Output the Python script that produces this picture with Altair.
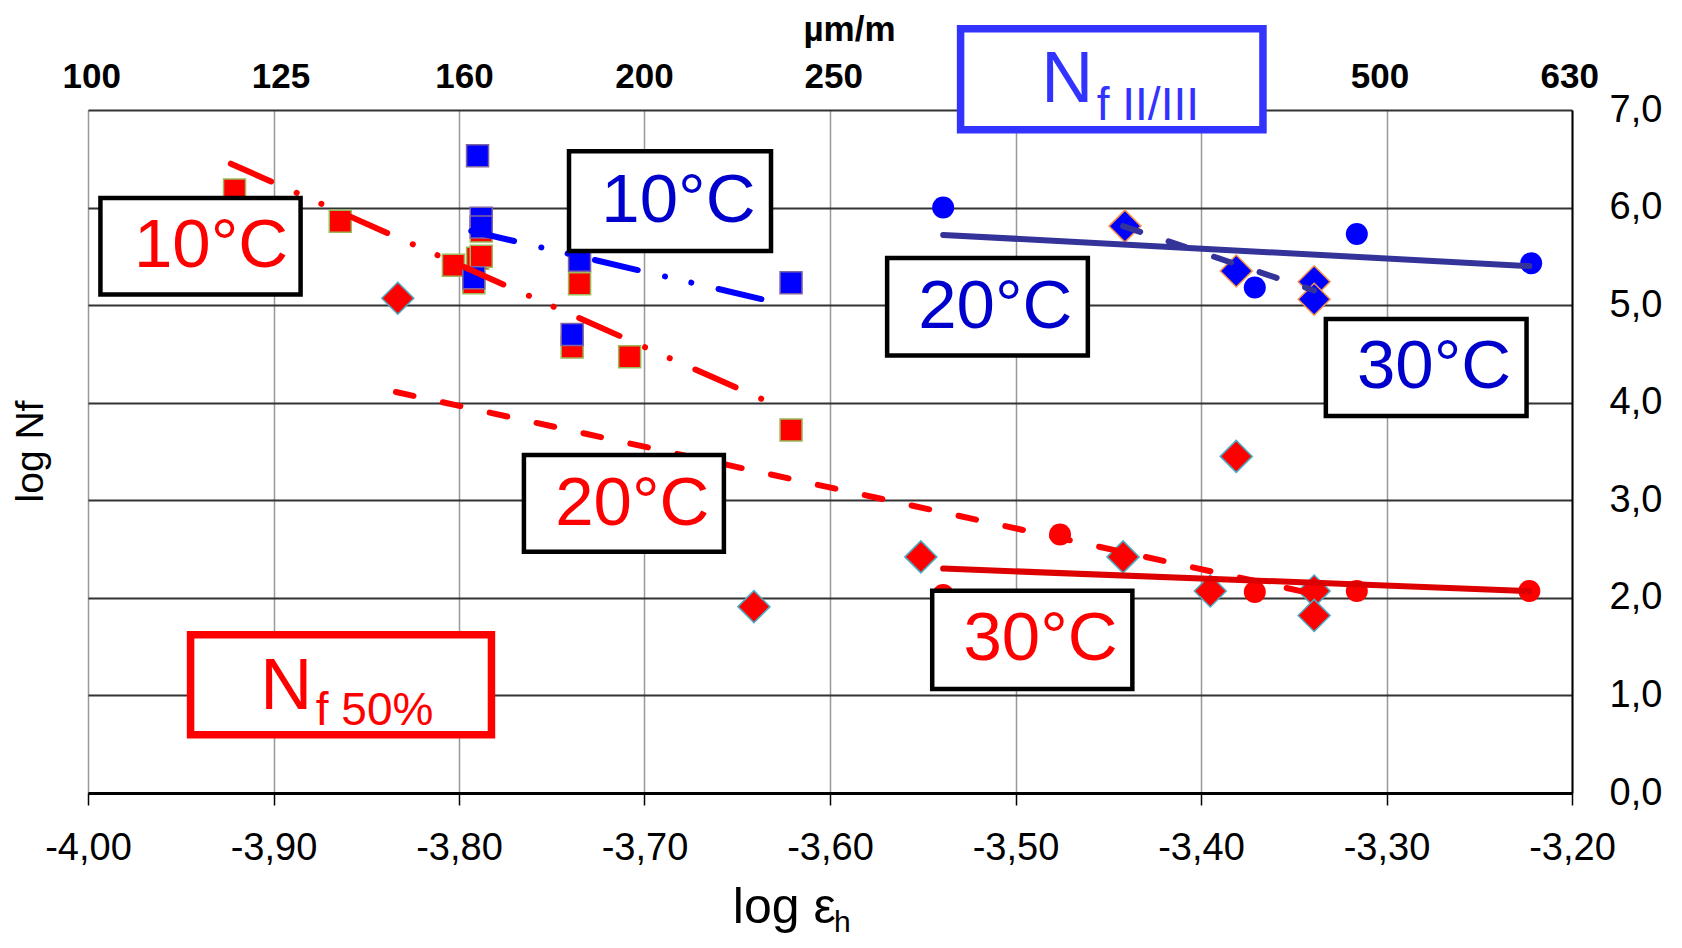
import altair as alt
import pandas as pd

# ---------------- data ----------------
# N_f 50%  (red markers)
red10_x = [-3.921, -3.864, -3.803, -3.790, -3.788, -3.792, -3.788, -3.735, -3.739, -3.708, -3.621]
red10_y = [6.18, 5.86, 5.41, 5.48, 5.50, 5.23, 5.76, 5.22, 4.57, 4.47, 3.72]
red20_x = [-3.833, -3.641, -3.551, -3.442, -3.395, -3.381, -3.339, -3.339]
red20_y = [5.07, 1.91, 2.42, 2.42, 2.07, 3.45, 2.07, 1.82]
red30_x = [-3.539, -3.476, -3.371, -3.316, -3.223]
red30_y = [2.03, 2.65, 2.06, 2.07, 2.07]

# N_f II/III  (blue markers)
blue10_x = [-3.790, -3.788, -3.788, -3.792, -3.735, -3.739, -3.621]
blue10_y = [6.53, 5.89, 5.80, 5.28, 5.46, 4.70, 5.23]
blue20_x = [-3.441, -3.381, -3.339, -3.339]
blue20_y = [5.81, 5.35, 5.24, 5.06]
blue30_x = [-3.539, -3.371, -3.316, -3.222]
blue30_y = [6.00, 5.18, 5.73, 5.43]

# trend lines (start, end)
tr_red10_x, tr_red10_y = [-3.923, -3.631], [6.45, 3.99]
tr_red20_x, tr_red20_y = [-3.834, -3.344], [4.11, 2.06]
tr_red30_x, tr_red30_y = [-3.539, -3.223], [2.30, 2.07]
tr_blue10_x, tr_blue10_y = [-3.7934, -3.632], [5.76, 5.04]
tr_blue20_x, tr_blue20_y = [-3.442, -3.339], [5.81, 5.15]
tr_blue30_x, tr_blue30_y = [-3.539, -3.223], [5.72, 5.40]

# axes
x_ticks = [-4.0, -3.9, -3.8, -3.7, -3.6, -3.5, -3.4, -3.3, -3.2]
y_ticks = [0, 1, 2, 3, 4, 5, 6, 7]
# top µm/m scale (315 and 400 are hidden behind the N_f II/III box in the reference)
top_labels = ["100", "125", "160", "200", "250", "500", "630"]
top_pos = [-3.998, -3.896, -3.797, -3.700, -3.598, -3.3035, -3.2012]

# annotation boxes
box_x1 = [-3.9933, -3.7407, -3.5692, -3.3327, -3.7650, -3.5449, -3.9447, -3.5296]
box_x2 = [-3.8854, -3.6318, -3.4610, -3.2245, -3.6572, -3.4370, -3.7825, -3.3666]
box_y1 = [6.099, 6.576, 5.484, 4.858, 3.464, 2.074, 1.623, 7.833]
box_y2 = [5.110, 5.556, 4.484, 3.864, 2.472, 1.067, 0.597, 6.797]
box_stroke = ["#000000"] * 6 + ["#FF0000", "#3333FF"]
box_sw = [4.5] * 6 + [7.5, 7.5]

# temperature labels
temp_text = ["10°C", "10°C", "20°C", "30°C", "20°C", "30°C"]
temp_x = [-3.9337, -3.6817, -3.5109, -3.2744, -3.7066, -3.4865]
temp_y = [5.395, 5.856, 4.763, 4.148, 2.746, 1.361]
temp_color = ["#FF0000", "#0000CC", "#0000CC", "#0000CC", "#FF0000", "#FF0000"]

# N_f labels (main letter + subscript)
nf_main_x = [-3.9071, -3.4861]
nf_main_y = [0.866, 7.077]
nf_sub_text = ["f 50%", "f II/III"]
nf_sub_x = [-3.8772, -3.4562]
nf_sub_y = [0.694, 6.900]
nf_color = ["#FF0000", "#3333FF"]

FONT = "Liberation Sans"

xs = alt.Scale(domain=[-4.0, -3.2], nice=False, zero=False)
ys = alt.Scale(domain=[0, 7], nice=False, zero=False)

x_axis = alt.Axis(
    orient="bottom", values=x_ticks,
    labelExpr="replace(replace(format(datum.value, '.2f'), '.', ','), '\u2212', '-')",
    labelFont=FONT, labelFontSize=38, labelColor="#000000",
    labelFlush=False, labelOverlap=False, labelBound=False,
    tickSize=12, tickColor="#000000", tickWidth=1.5, labelPadding=24,
    domainColor="#000000", domainWidth=3,
    grid=True, gridColor="#999999", gridWidth=1.5, title=None,
)
y_axis = alt.Axis(
    orient="right", values=y_ticks,
    labelExpr="replace(format(datum.value, '.1f'), '.', ',')",
    labelFont=FONT, labelFontSize=38, labelColor="#000000",
    labelFlush=False, labelOverlap=False, labelBound=False,
    labelAlign="left", labelBaseline="middle",
    ticks=False, labelPadding=37,
    domainColor="#000000", domainWidth=2,
    grid=True, gridColor="#333333", gridWidth=2, title=None,
)


def X(field="x"):
    return alt.X(f"{field}:Q", scale=xs, axis=x_axis, title=None)


def Y(field="y"):
    return alt.Y(f"{field}:Q", scale=ys, axis=y_axis, title=None)


def pts(xv, yv, shape, size, fill, stroke=None, sw=0):
    df = pd.DataFrame({"x": xv, "y": yv})
    kw = dict(shape=shape, size=size, filled=True, fill=fill, opacity=1)
    if stroke:
        kw.update(stroke=stroke, strokeWidth=sw)
    else:
        kw.update(strokeWidth=0)
    return alt.Chart(df).mark_point(**kw).encode(x=X(), y=Y())


def line(xv, yv, color, width, dash=None):
    df = pd.DataFrame({"x": xv, "y": yv})
    kw = dict(color=color, strokeWidth=width, strokeCap="round")
    if dash:
        kw["strokeDash"] = dash
    return alt.Chart(df).mark_line(**kw).encode(x=X(), y=Y())


markers = [
    pts(red10_x, red10_y, "square", 484, "#FF0000", "#9BBB59", 1.5),
    pts(blue10_x, blue10_y, "square", 484, "#0000FF", "#8064A2", 1.5),
    pts(red20_x, red20_y, "diamond", 1024, "#FF0000", "#4BACC6", 1.5),
    pts(blue20_x, blue20_y, "diamond", 1024, "#0000FF", "#F79646", 1.5),
    pts(red30_x, red30_y, "circle", 484, "#FF0000"),
    pts(blue30_x, blue30_y, "circle", 484, "#0000FF"),
]

dashdotdot = [44, 28, 0.01, 27, 0.01, 28]
dashed = [18, 30]
lines = [
    line(tr_red10_x, tr_red10_y, "#FF0000", 6, dashdotdot),
    line(tr_blue10_x, tr_blue10_y, "#0000FF", 6, dashdotdot),
    line(tr_red20_x, tr_red20_y, "#FF0000", 6, dashed),
    line(tr_blue20_x, tr_blue20_y, "#333399", 6, dashed),
    line(tr_red30_x, tr_red30_y, "#DD0000", 6),
    line(tr_blue30_x, tr_blue30_y, "#333399", 6),
]

# top secondary scale labels (µm/m)
top_df = pd.DataFrame({"x": top_pos, "t": top_labels})
top_layer = alt.Chart(top_df).mark_text(
    font=FONT, fontWeight="bold", fontSize=35, align="center", baseline="alphabetic", color="#000000"
).encode(x=X(), y=alt.value(-22), text="t:N")
unit_layer = alt.Chart(pd.DataFrame({"t": ["µm/m"]})).mark_text(
    font=FONT, fontWeight="bold", fontSize=35, align="center", baseline="alphabetic", color="#000000"
).encode(x=alt.value(761.5), y=alt.value(-69.5), text="t:N")

# boxes
box_df = pd.DataFrame({"x": box_x1, "x2": box_x2, "y": box_y1, "y2": box_y2,
                       "stroke": box_stroke, "sw": box_sw})
box_layer = alt.Chart(box_df).mark_rect(fill="#FFFFFF").encode(
    x=X(), x2="x2:Q", y=Y(), y2="y2:Q",
    stroke=alt.Stroke("stroke:N", scale=None),
    strokeWidth=alt.StrokeWidth("sw:Q", scale=None),
)

temp_df = pd.DataFrame({"x": temp_x, "y": temp_y, "t": temp_text, "c": temp_color})
temp_layer = alt.Chart(temp_df).mark_text(
    font=FONT, fontSize=69, align="center", baseline="alphabetic"
).encode(x=X(), y=Y(), text="t:N", color=alt.Color("c:N", scale=None))

nf_main_df = pd.DataFrame({"x": nf_main_x, "y": nf_main_y, "t": ["N", "N"], "c": nf_color})
nf_main_layer = alt.Chart(nf_main_df).mark_text(
    font=FONT, fontSize=72, align="left", baseline="alphabetic"
).encode(x=X(), y=Y(), text="t:N", color=alt.Color("c:N", scale=None))
nf_sub_df = pd.DataFrame({"x": nf_sub_x, "y": nf_sub_y, "t": nf_sub_text, "c": nf_color})
nf_sub_layer = alt.Chart(nf_sub_df).mark_text(
    font=FONT, fontSize=46, align="left", baseline="alphabetic"
).encode(x=X(), y=Y(), text="t:N", color=alt.Color("c:N", scale=None))

# axis titles
ytitle = alt.Chart(pd.DataFrame({"t": ["log Nf"]})).mark_text(
    font=FONT, fontSize=39, angle=270, align="center", baseline="alphabetic", color="#000000"
).encode(x=alt.value(-45.5), y=alt.value(341.5), text="t:N")
xtitle = alt.Chart(pd.DataFrame({"t": ["log ε"]})).mark_text(
    font=FONT, fontSize=50, align="left", baseline="alphabetic", color="#000000"
).encode(x=alt.value(644.8), y=alt.value(813), text="t:N")
xtitle_sub = alt.Chart(pd.DataFrame({"t": ["h"]})).mark_text(
    font=FONT, fontSize=30, align="left", baseline="alphabetic", color="#000000"
).encode(x=alt.value(746), y=alt.value(822), text="t:N")

chart = alt.layer(
    *markers, *lines, top_layer, unit_layer, box_layer,
    temp_layer, nf_main_layer, nf_sub_layer, ytitle, xtitle, xtitle_sub,
).properties(
    width=1484, height=683,
    padding={"left": 80, "top": 102, "right": 100, "bottom": 144},
    autosize=alt.AutoSizeParams(type="none"),
).configure_view(
    stroke="#888888", strokeWidth=2, fill="#FFFFFF"
).configure(background="#FFFFFF")

chart.save("out.html", embed_options={"renderer": "svg", "actions": False})
